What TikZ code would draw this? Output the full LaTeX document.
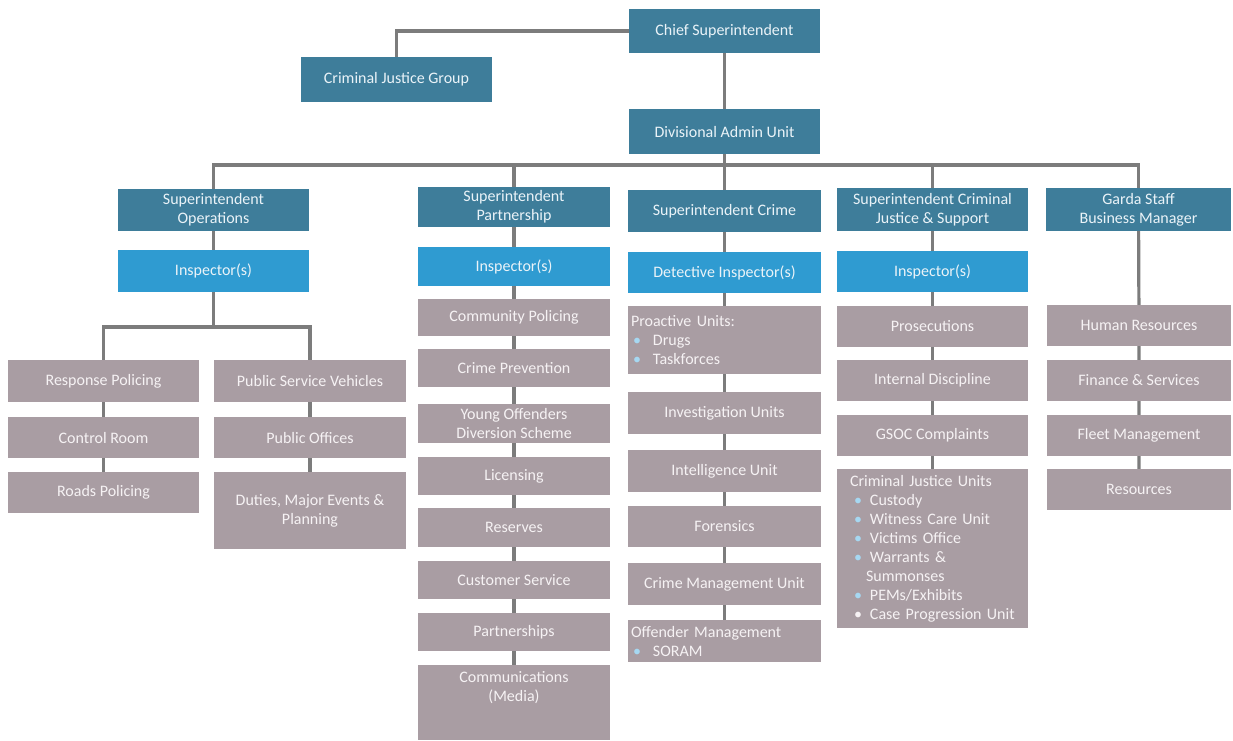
\documentclass[tikz,border=0pt]{standalone}
\usepackage{fontspec}
\setmainfont{Carlito}
\usetikzlibrary{backgrounds}
\definecolor{dk}{HTML}{3E7D9A}
\definecolor{ins}{HTML}{2F9BD1}
\definecolor{gr}{HTML}{A99DA3}
\definecolor{ln}{HTML}{7C7C7C}
\definecolor{bul}{HTML}{A6D8F2}
\definecolor{tx}{HTML}{EAF3F8}
\definecolor{gtx}{HTML}{F6F2F4}
\tikzset{
  base/.style={inner sep=0pt, text=tx, font=\fontsize{16}{19}\selectfont, align=center},
  dkbox/.style={base, fill=dk},
  inbox/.style={base, fill=ins},
  grbox/.style={base, fill=gr, text=gtx},
  listbox/.style={grbox, align=left, text width=#1},
  conn/.style={draw=ln, line width=3.2pt},
}
\newcommand{\orgbox}[7]{\node[#1, minimum width={(#5-#3)*1pt}, minimum height={(#6-#4)*1pt}] (#2) at ({(#3+#5)/2},{(#4+#6)/2}) {#7};}
\newcommand{\bl}{\textcolor{bul}{\textbullet}}
\begin{document}
\begin{tikzpicture}[x=1pt,y=-1pt]
\useasboundingbox (0,0) rectangle (1233,740);
% top
\orgbox{dkbox}{chief}{629}{9}{820}{53}{Chief Superintendent}
\orgbox{dkbox}{cjg}{301}{57}{492}{102}{Criminal Justice Group}
\orgbox{dkbox}{dau}{629}{109}{820}{154}{Divisional Admin Unit}
% operations
\orgbox{dkbox}{supops}{118}{189}{309}{231}{Superintendent\\Operations}
\orgbox{inbox}{insops}{118}{250}{309}{292}{Inspector(s)}
\orgbox{grbox}{resp}{8}{360}{199}{402}{Response Policing}
\orgbox{grbox}{ctrl}{8}{417}{199}{458}{Control Room}
\orgbox{grbox}{roads}{8}{472}{199}{513}{Roads Policing}
\orgbox{grbox}{psv}{214}{360}{406}{402}{Public Service Vehicles}
\orgbox{grbox}{poff}{214}{417}{406}{458}{Public Offices}
\orgbox{grbox}{duties}{214}{472}{406}{549}{Duties, Major Events \&\\Planning}
% partnership
\orgbox{dkbox}{suppart}{418}{187}{610}{227}{Superintendent\\Partnership}
\orgbox{inbox}{inspart}{418}{247}{610}{286}{Inspector(s)}
\orgbox{grbox}{commpol}{418}{299}{610}{336}{Community Policing}
\orgbox{grbox}{crprev}{418}{349}{610}{387}{Crime Prevention}
\orgbox{grbox}{yodiv}{418}{404}{610}{443}{Young Offenders\\Diversion Scheme}
\orgbox{grbox}{lic}{418}{457}{610}{495}{Licensing}
\orgbox{grbox}{resv}{418}{508}{610}{547}{Reserves}
\orgbox{grbox}{custs}{418}{561}{610}{599}{Customer Service}
\orgbox{grbox}{partn}{418}{613}{610}{651}{Partnerships}
\orgbox{grbox}{commu}{418}{665}{610}{740}{\raisebox{9.5pt}[0pt][0pt]{\begin{tabular}{@{}c@{}}Communications\\(Media)\end{tabular}}}
% crime
\orgbox{dkbox}{supcrime}{628}{190}{821}{232}{Superintendent Crime}
\orgbox{inbox}{det}{628}{252}{821}{293}{Detective Inspector(s)}
\orgbox{listbox=193pt}{proact}{628}{306}{821}{374}{\hspace*{3pt}Proactive Units:\\\hspace*{5pt}\bl\hspace{12pt}Drugs\\\hspace*{5pt}\bl\hspace{12pt}Taskforces}
\orgbox{grbox}{invest}{628}{392}{821}{434}{Investigation Units}
\orgbox{grbox}{intel}{628}{450}{821}{492}{Intelligence Unit}
\orgbox{grbox}{foren}{628}{506}{821}{547}{Forensics}
\orgbox{grbox}{cmu}{628}{563}{821}{605}{Crime Management Unit}
\orgbox{listbox=193pt}{offm}{628}{620}{821}{662}{\fontsize{16}{16}\selectfont\hspace*{3pt}Offender Management\\\hspace*{5pt}\bl\hspace{12pt}SORAM}
% criminal justice & support
\orgbox{dkbox}{supcjs}{837}{188}{1028}{231}{Superintendent Criminal\\Justice \& Support}
\orgbox{inbox}{inscjs}{837}{251}{1028}{292}{Inspector(s)}
\orgbox{grbox}{pros}{837}{306}{1028}{347}{Prosecutions}
\orgbox{grbox}{intdis}{837}{360}{1028}{401}{Internal Discipline}
\orgbox{grbox}{gsoc}{837}{415}{1028}{456}{GSOC Complaints}
\orgbox{listbox=191pt}{cju}{837}{469}{1028}{628}{\hspace*{13pt}Criminal Justice Units\\
\hspace*{17pt}\bl\hspace{8pt}Custody\\
\hspace*{17pt}\bl\hspace{8pt}Witness Care Unit\\
\hspace*{17pt}\bl\hspace{8pt}Victims Office\\
\hspace*{17pt}\bl\hspace{8pt}Warrants \&\\
\hspace*{29pt}Summonses\\
\hspace*{17pt}\bl\hspace{8pt}PEMs/Exhibits\\
\hspace*{17pt}\textcolor{gtx}{\textbullet}\hspace{8pt}Case Progression Unit}
% garda staff
\orgbox{dkbox}{garda}{1046}{188}{1231}{231}{Garda Staff\\Business Manager}
\orgbox{grbox}{hr}{1047}{305}{1231}{346}{Human Resources}
\orgbox{grbox}{fin}{1047}{360}{1231}{401}{Finance \& Services}
\orgbox{grbox}{fleet}{1047}{415}{1231}{456}{Fleet Management}
\orgbox{grbox}{resrc}{1047}{469}{1231}{510}{Resources}
\coordinate (busa) at (0,165);
\coordinate (busb) at (0,327);
\begin{scope}[on background layer]
\draw[conn] (chief.west) -| (cjg.north);
\draw[conn] (chief) -- (dau) -- (supcrime);
\draw[conn] (supops.north) |- (garda.north |- busa) -- (garda.north);
\draw[conn] (suppart.north) -- (suppart.north |- busa);
\draw[conn] (supcjs.north) -- (supcjs.north |- busa);
\draw[conn] (supops) -- (insops);
\draw[conn] (insops.south) -- (insops.south |- busb);
\draw[conn] (resp.north) |- (psv.north |- busb) -- (psv.north);
\draw[conn] (resp) -- (ctrl) -- (roads);
\draw[conn] (psv) -- (poff) -- (duties);
\draw[conn] (suppart) -- (inspart) -- (commpol) -- (crprev) -- (yodiv) -- (lic) -- (resv) -- (custs) -- (partn) -- (commu);
\draw[conn] (supcrime) -- (det) -- (proact) -- (invest) -- (intel) -- (foren) -- (cmu) -- (offm);
\draw[conn] (supcjs) -- (inscjs) -- (pros) -- (intdis) -- (gsoc) -- (cju);
\draw[conn] (garda) -- (hr) -- (fin) -- (fleet) -- (resrc);
\end{scope}
\end{tikzpicture}
\end{document}
